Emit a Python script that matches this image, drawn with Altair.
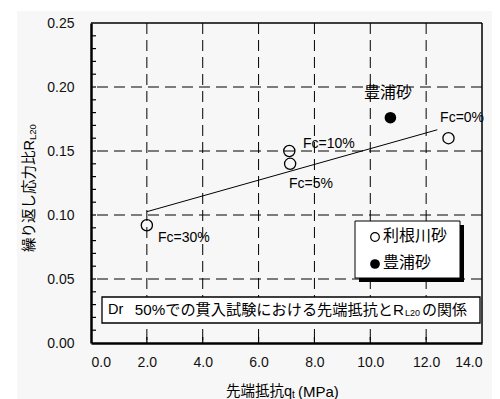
import altair as alt
import pandas as pd

# ---- data ----
tone_x = [2.0, 7.1, 7.13, 12.8]        # 利根川砂
tone_y = [0.092, 0.150, 0.140, 0.160]
toyo_x = [10.72]                        # 豊浦砂
toyo_y = [0.176]
fit_x = [2.0, 12.4]
fit_y = [0.1026, 0.1666]
ann_text = ["Fc=30%", "Fc=10%", "Fc=5%", "Fc=0%"]
ann_x = [2.40, 7.59, 7.09, 12.5]
ann_y = [0.0824, 0.1555, 0.1246, 0.1758]
toyo_label = ["豊浦砂"]
toyo_label_x = [10.63]
toyo_label_y = [0.1953]
x_ticks = [0, 2, 4, 6, 8, 10, 12, 14]
y_ticks = [0.0, 0.05, 0.10, 0.15, 0.20, 0.25]
x_grid = [2, 4, 6, 8, 10, 12]
y_grid = [0.05, 0.10, 0.15, 0.20]
y_minor = [i / 100 for i in range(1, 25)]
x_minor = [2, 4, 6, 8, 10, 12]

W, H = 391, 320
FONT = "'Liberation Sans', Arial, 'Noto Sans CJK JP', sans-serif"
BG = "#f7f7f7"

xs = alt.Scale(domain=[0, 14], nice=False, zero=False)
ys = alt.Scale(domain=[0, 0.25], nice=False, zero=False)

one = pd.DataFrame({"a": [0]})

bg = alt.Chart(one).mark_rect(color=BG).encode(
    x=alt.value(-74), x2=alt.value(420), y=alt.value(-12), y2=alt.value(380)
)

dash = [11, 6]
vgrid = alt.Chart(pd.DataFrame({"gx": x_grid})).mark_rule(
    color="black", strokeWidth=1, strokeDash=dash
).encode(x=alt.X("gx:Q", scale=xs))
hgrid = alt.Chart(pd.DataFrame({"gy": y_grid})).mark_rule(
    color="black", strokeWidth=1, strokeDash=dash
).encode(y=alt.Y("gy:Q", scale=ys))

frame_top = alt.Chart(one).mark_rule(color="black", strokeWidth=1.5).encode(
    y=alt.value(0), x=alt.value(0), x2=alt.value(W)
)
frame_right = alt.Chart(one).mark_rule(color="black", strokeWidth=1.5).encode(
    x=alt.value(W), y=alt.value(0), y2=alt.value(H)
)

ymin = alt.Chart(pd.DataFrame({"v": y_minor})).mark_rule(
    color="black", strokeWidth=1.2
).encode(y=alt.Y("v:Q", scale=ys), x=alt.value(0), x2=alt.value(5))
xmin = alt.Chart(pd.DataFrame({"v": x_minor})).mark_rule(
    color="black", strokeWidth=1.2
).encode(x=alt.X("v:Q", scale=xs), y=alt.value(H), y2=alt.value(H - 6))

fit = alt.Chart(pd.DataFrame({"x": fit_x, "y": fit_y})).mark_line(
    color="black", strokeWidth=1
).encode(
    x=alt.X("x:Q", scale=xs,
            axis=alt.Axis(values=x_ticks, format=".1f", title="", grid=False, ticks=False,
                          domainColor="black", domainWidth=2.5, labelFontSize=14,
                          labelFont=FONT, labelColor="#111111", labelPadding=12, zindex=1)),
    y=alt.Y("y:Q", scale=ys,
            axis=alt.Axis(values=y_ticks, format=".2f", title="", grid=False, ticks=False,
                          domainColor="black", domainWidth=2.5, labelFontSize=14,
                          labelFont=FONT, labelColor="#111111", labelPadding=17, zindex=1)),
)

tone = alt.Chart(pd.DataFrame({"x": tone_x, "y": tone_y})).mark_point(
    shape="circle", filled=False, color="black", size=125, strokeWidth=1.3, opacity=1
).encode(x=alt.X("x:Q", scale=xs), y=alt.Y("y:Q", scale=ys))

toyo = alt.Chart(pd.DataFrame({"x": toyo_x, "y": toyo_y})).mark_point(
    shape="circle", filled=True, color="black", size=135, opacity=1
).encode(x=alt.X("x:Q", scale=xs), y=alt.Y("y:Q", scale=ys))

ann = alt.Chart(pd.DataFrame({"t": ann_text, "x": ann_x, "y": ann_y})).mark_text(
    align="left", baseline="middle", fontSize=14, font=FONT, color="black"
).encode(x=alt.X("x:Q", scale=xs), y=alt.Y("y:Q", scale=ys), text="t:N")

toyo_ann = alt.Chart(pd.DataFrame({"t": toyo_label, "x": toyo_label_x, "y": toyo_label_y})).mark_text(
    align="center", baseline="middle", fontSize=16, font=FONT, color="black"
).encode(x=alt.X("x:Q", scale=xs), y=alt.Y("y:Q", scale=ys), text="t:N")

# legend box
lg_shadow = alt.Chart(one).mark_rect(color="black").encode(
    x=alt.value(268), x2=alt.value(373), y=alt.value(202), y2=alt.value(259)
)
lg_box = alt.Chart(one).mark_rect(fill="white", stroke="black", strokeWidth=1).encode(
    x=alt.value(264), x2=alt.value(369), y=alt.value(198), y2=alt.value(255)
)
lg_open = alt.Chart(one).mark_point(shape="circle", filled=False, color="black",
                                    size=75, strokeWidth=1.2, opacity=1).encode(
    x=alt.value(284), y=alt.value(214))
lg_fill = alt.Chart(one).mark_point(shape="circle", filled=True, color="black",
                                    size=95, opacity=1).encode(
    x=alt.value(284), y=alt.value(241))
lg_t1 = alt.Chart(one).mark_text(align="left", baseline="middle", fontSize=16, font=FONT,
                                 color="black", text="利根川砂").encode(
    x=alt.value(292), y=alt.value(213))
lg_t2 = alt.Chart(one).mark_text(align="left", baseline="middle", fontSize=16, font=FONT,
                                 color="black", text="豊浦砂").encode(
    x=alt.value(292), y=alt.value(240))

# caption box
cap_box = alt.Chart(one).mark_rect(fill="white", stroke="black", strokeWidth=1.3).encode(
    x=alt.value(11), x2=alt.value(389), y=alt.value(274), y2=alt.value(300)
)
cap0 = alt.Chart(one).mark_text(align="left", baseline="middle", fontSize=14.5, font=FONT,
                                color="black", text="Dr").encode(
    x=alt.value(17), y=alt.value(287))
cap1 = alt.Chart(one).mark_text(align="right", baseline="middle", fontSize=15.2, font=FONT,
                                color="black", text="50%での貫入試験における先端抵抗とR").encode(
    x=alt.value(313), y=alt.value(287))
cap2 = alt.Chart(one).mark_text(align="left", baseline="middle", fontSize=9, font=FONT,
                                color="black", text="L20").encode(
    x=alt.value(314), y=alt.value(290))
cap3 = alt.Chart(one).mark_text(align="left", baseline="middle", fontSize=15, font=FONT,
                                color="black", text="の関係").encode(
    x=alt.value(331), y=alt.value(287))

# y title
yt1 = alt.Chart(one).mark_text(align="right", baseline="middle", angle=270, fontSize=14.5,
                               font=FONT, color="black", text="繰り返し応力比R").encode(
    x=alt.value(-61), y=alt.value(117))
yt2 = alt.Chart(one).mark_text(align="left", baseline="middle", angle=270, fontSize=9.5,
                               font=FONT, color="black", text="L20", dy=3).encode(
    x=alt.value(-61), y=alt.value(117))

# x title
xt1 = alt.Chart(one).mark_text(align="right", baseline="middle", fontSize=14.5, font=FONT,
                               color="black", text="先端抵抗q").encode(
    x=alt.value(201), y=alt.value(369))
xt2 = alt.Chart(one).mark_text(align="left", baseline="middle", fontSize=10, font=FONT,
                               color="black", text="t").encode(
    x=alt.value(201), y=alt.value(372))
xt3 = alt.Chart(one).mark_text(align="left", baseline="middle", fontSize=15, font=FONT,
                               color="black", text="(MPa)").encode(
    x=alt.value(207), y=alt.value(369))

chart = alt.layer(
    bg, vgrid, hgrid, fit, tone, toyo, ann, toyo_ann,
    lg_shadow, lg_box, lg_open, lg_fill, lg_t1, lg_t2,
    cap_box, cap0, cap1, cap2, cap3,
    ymin, xmin, frame_top, frame_right,
    yt1, yt2, xt1, xt2, xt3,
).properties(
    width=W, height=H,
    autosize=alt.AutoSizeParams(type="none"),
    padding={"left": 83, "top": 15, "right": 10, "bottom": 56},
    background="white",
).configure_view(stroke="transparent")

chart.save("out.html", embed_options={"renderer": "svg", "actions": False})
